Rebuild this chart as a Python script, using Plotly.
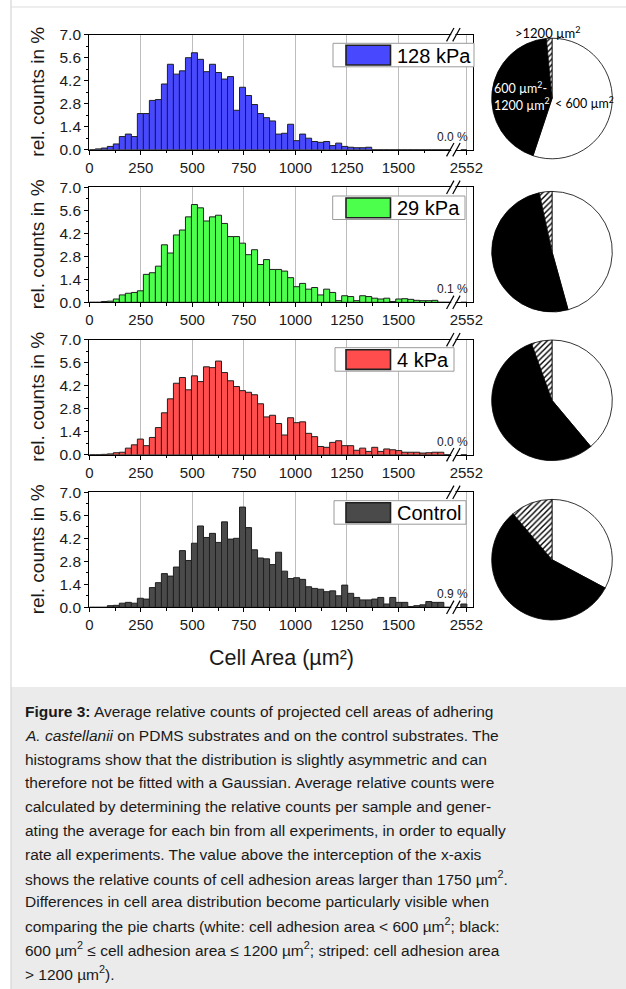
import plotly.graph_objects as go

# ---------------- data ----------------
N_BINS = 60
BIN_MAX = 1750
x_ticks = [0, 250, 500, 750, 1000, 1250, 1500]
x_minor = [125, 375, 625, 875, 1125, 1375, 1625]
break_label = "2552"
y_ticks = [0.0, 1.4, 2.8, 4.2, 5.6, 7.0]
y_minor = [0.7, 2.1, 3.5, 4.9, 6.3]

series_names = ["128 kPa", "29 kPa", "4 kPa", "Control"]
series_colors = ["#4848ff", "#4dff4d", "#ff4d4d", "#4a4a4a"]

counts_128 = [0, 0.05, 0.1, 0.2, 0.35, 0.8, 0.95, 0.8, 2.2, 2.2,
              3.0, 3.05, 4.0, 5.2, 4.6, 4.8, 5.6, 5.9, 5.5, 4.75,
              5.2, 4.7, 4.3, 4.45, 2.4, 3.8, 3.3, 2.75, 2.2, 1.95,
              1.75, 0.95, 1.0, 1.55, 0.55, 0.95, 0.7, 0.5, 0.45, 0.5,
              0.25, 0.4, 0.2, 0.15, 0.12, 0.12, 0.15, 0, 0, 0,
              0, 0, 0, 0, 0, 0, 0, 0, 0, 0]
counts_29 = [0, 0, 0.05, 0.07, 0.2, 0.45, 0.55, 0.6, 0.7, 1.7,
             1.8, 2.2, 3.5, 3.0, 4.1, 4.4, 5.2, 5.95, 5.75, 4.95,
             5.2, 5.3, 4.8, 4.0, 4.0, 3.6, 2.9, 3.2, 2.3, 2.6,
             2.0, 2.0, 1.9, 1.5, 0.95, 1.15, 0.8, 0.9, 0.45, 0.8,
             0.6, 0.1, 0.4, 0.35, 0.1, 0.4, 0.35, 0.25, 0.2, 0.25,
             0.05, 0.2, 0.22, 0.18, 0.12, 0.1, 0.1, 0.12, 0, 0]
counts_4 = [0, 0, 0.02, 0.05, 0.12, 0.15, 0.4, 0.6, 0.95, 0.55,
            1.05, 1.65, 2.55, 3.4, 4.35, 4.7, 3.95, 4.8, 4.45, 5.35,
            5.3, 5.7, 5.0, 4.5, 4.15, 3.9, 3.8, 3.65, 3.1, 2.3,
            2.4, 1.9, 1.2, 2.25, 1.95, 2.0, 1.3, 1.1, 0.5, 0.45,
            0.75, 0.85, 0.55, 0.55, 0.27, 0.4, 0.2, 0.45, 0.2, 0.35,
            0.3, 0.25, 0.15, 0.15, 0.15, 0.1, 0.12, 0.15, 0.15, 0]
counts_ctrl = [0, 0, 0, 0.1, 0.12, 0.25, 0.3, 0.25, 0.55, 0.5,
               1.2, 1.5, 2.05, 1.9, 2.45, 3.45, 2.85, 3.9, 4.95, 4.25,
               4.5, 3.95, 5.2, 4.15, 4.2, 6.1, 4.85, 3.5, 3.0, 2.95,
               2.6, 3.35, 2.2, 1.75, 1.8, 1.7, 1.25, 1.15, 1.1, 0.95,
               1.0, 0.7, 1.35, 0.85, 0.6, 0.45, 0.45, 0.5, 0.6, 0.2,
               0.6, 0.3, 0.3, 0.05, 0.1, 0.15, 0.35, 0.3, 0.3, 0]
over_bar = [0, 0, 0, 0.2]
over_pct = ["0.0 %", "0.1 %", "0.0 %", "0.9 %"]

pie_white = [55.1, 45.7, 38.9, 32.8]
pie_black = [43.4, 50.9, 55.6, 56.0]
pie_striped = [1.5, 3.4, 5.5, 11.2]

caption_lines = [
    "<b>Figure 3:</b> Average relative counts of projected cell areas of adhering",
    "<i>A. castellanii</i> on PDMS substrates and on the control substrates. The",
    "histograms show that the distribution is slightly asymmetric and can",
    "therefore not be fitted with a Gaussian. Average relative counts were",
    "calculated by determining the relative counts per sample and gener-",
    "ating the average for each bin from all experiments, in order to equally",
    "rate all experiments. The value above the interception of the x-axis",
    "shows the relative counts of cell adhesion areas larger than 1750 µm<sup>2</sup>.",
    "Differences in cell area distribution become particularly visible when",
    "comparing the pie charts (white: cell adhesion area &lt; 600 µm<sup>2</sup>; black:",
    "600 µm<sup>2</sup> ≤ cell adhesion area ≤ 1200 µm<sup>2</sup>; striped: cell adhesion area",
    "&gt; 1200 µm<sup>2</sup>).",
]

# ---------------- geometry ----------------
W, H = 626, 989
X_LEFT, X_RIGHT = 89.3, 472.5
XR = [0, 1860]
BREAK_TICK_X = 1830
OVER_X = 1818
BREAK_LO, BREAK_HI = 1752, 1782
PANEL_BOTTOMS = [149.7, 302.3, 454.7, 607.3]
PANEL_H = 115.0
LEG_BOX = [(333, 8.6, 474), (332.7, 8.7, 465), (335, 8.0, 454), (334, 8.4, 466)]
PIE_CENTERS = [(552, 98.5), (552, 251.7), (552, 400.3), (552, 559.7)]
PIE_R = 60.3

FONT = "Liberation Sans, Arial, sans-serif"


def px(x):
    return x / W


def py(y):
    return 1 - y / H


def xpix(v):
    return X_LEFT + (v - XR[0]) / (XR[1] - XR[0]) * (X_RIGHT - X_LEFT)


binw = BIN_MAX / N_BINS
centers = [(k + 0.5) * binw for k in range(N_BINS)]
all_counts = [counts_128, counts_29, counts_4, counts_ctrl]

fig = go.Figure()
layout = dict(
    width=W, height=H, margin=dict(l=0, r=0, t=0, b=0, pad=0, autoexpand=False), autosize=False,
    paper_bgcolor="white", plot_bgcolor="white", showlegend=False,
)
shapes = []
annotations = []

# page frame and caption box
shapes.append(dict(type="rect", xref="paper", yref="paper", x0=px(11), x1=px(626),
                   y0=py(989), y1=py(687), fillcolor="#ebebeb", line=dict(width=0), layer="below"))
shapes.append(dict(type="line", xref="paper", yref="paper", x0=px(11), x1=px(11),
                   y0=py(0), y1=py(989), line=dict(color="#d6d6d6", width=1.2), layer="below"))
shapes.append(dict(type="line", xref="paper", yref="paper", x0=px(11), x1=px(626),
                   y0=py(7), y1=py(7), line=dict(color="#dedede", width=1.2), layer="below"))

for i in range(4):
    ax = "" if i == 0 else str(i + 1)
    bottom = PANEL_BOTTOMS[i]
    top = bottom - PANEL_H
    fig.add_trace(go.Bar(
        x=centers + [OVER_X], y=all_counts[i] + [over_bar[i]],
        width=[binw] * N_BINS + [binw],
        xaxis="x" + ax, yaxis="y" + ax,
        marker=dict(color=series_colors[i], line=dict(color="#202020", width=1)),
        showlegend=False, hoverinfo="x+y",
    ))
    layout["xaxis" + ax] = dict(
        domain=[px(X_LEFT), px(X_RIGHT)], range=XR, anchor="y" + ax, automargin=False,
        tickmode="array", tickvals=x_ticks + [BREAK_TICK_X],
        ticktext=[str(t) for t in x_ticks] + [break_label],
        ticks="outside", ticklen=4, tickwidth=1, tickcolor="black",
        showline=True, linecolor="black", linewidth=1.3, mirror=True,
        showgrid=True, gridcolor="#bdbdbd", gridwidth=1, zeroline=False,
        tickfont=dict(family=FONT, size=15, color="#1a1a1a"),
        minor=dict(tickmode="array", tickvals=x_minor, ticks="outside", ticklen=2.5,
                   tickcolor="black", showgrid=False),
    )
    layout["yaxis" + ax] = dict(
        domain=[py(bottom), py(top)], range=[0, 7.0], anchor="x" + ax, automargin=False,
        tickmode="array", tickvals=y_ticks, ticktext=[f"{v:.1f}" for v in y_ticks],
        ticks="outside", ticklen=4, tickwidth=1, tickcolor="black",
        showline=True, linecolor="black", linewidth=1.3, mirror=True,
        showgrid=False, zeroline=False,
        tickfont=dict(family=FONT, size=15.5, color="#1a1a1a"),
        minor=dict(tickmode="array", tickvals=y_minor, ticks="outside", ticklen=2.5,
                   tickcolor="black", showgrid=False),
    )
    annotations.append(dict(text="rel. counts in %", x=px(37.5), y=py((top + bottom) / 2),
                            xref="paper", yref="paper", showarrow=False, textangle=-90,
                            font=dict(family=FONT, size=19, color="#1a1a1a"),
                            xanchor="center", yanchor="middle"))
    annotations.append(dict(text=over_pct[i], x=px(469.5), y=py(bottom - 13),
                            xref="paper", yref="paper", showarrow=False,
                            font=dict(family=FONT, size=12, color="#222"),
                            xanchor="right", yanchor="middle"))
    xa, xb = xpix(BREAK_LO), xpix(BREAK_HI)
    for yl in (bottom, top):
        shapes.append(dict(type="line", xref="paper", yref="paper",
                           x0=px(xa + 1), x1=px(xb - 1), y0=py(yl), y1=py(yl),
                           line=dict(color="white", width=4), layer="above"))
        for xc in (xa, xb):
            shapes.append(dict(type="line", xref="paper", yref="paper",
                               x0=px(xc - 3.7), x1=px(xc + 3.7), y0=py(yl + 6.7), y1=py(yl - 6.7),
                               line=dict(color="black", width=1.2), layer="above"))
    bl, boff, br = LEG_BOX[i]
    bt = top + boff
    bb = bt + 23.5
    shapes.append(dict(type="rect", xref="paper", yref="paper", x0=px(bl), x1=px(br),
                       y0=py(bb), y1=py(bt), fillcolor="white",
                       line=dict(color="#9a9a9a", width=1), layer="above"))
    shapes.append(dict(type="rect", xref="paper", yref="paper", x0=px(346), x1=px(390.5),
                       y0=py(bb - 1.8), y1=py(bt + 2), fillcolor=series_colors[i],
                       line=dict(color="#202020", width=1.6), layer="above"))
    annotations.append(dict(text=series_names[i], x=px(394.5), y=py((bt + bb) / 2 + 0.5),
                            xref="paper", yref="paper", showarrow=False,
                            font=dict(family=FONT, size=20, color="black"),
                            xanchor="left", yanchor="middle"))

    cx, cy = PIE_CENTERS[i]
    fig.add_trace(go.Pie(
        values=[pie_white[i], pie_black[i], pie_striped[i]],
        labels=["< 600 µm²", "600–1200 µm²", "> 1200 µm²"],
        sort=False, direction="clockwise", rotation=0,
        textinfo="none", showlegend=False, automargin=False,
        marker=dict(colors=["white", "black", "white"],
                    line=dict(color="black", width=0.8),
                    pattern=dict(shape=["", "", "/"], fgcolor="black", bgcolor="white",
                                 size=4, solidity=0.35)),
        domain=dict(x=[px(cx - PIE_R), px(cx + PIE_R)], y=[py(cy + PIE_R), py(cy - PIE_R)]),
    ))

annotations.append(dict(text="Cell Area (µm²)", x=px(281), y=py(658), xref="paper", yref="paper",
                        showarrow=False, font=dict(family=FONT, size=21.5, color="#1a1a1a"),
                        xanchor="center", yanchor="middle"))

PIE_FONT = "Lato, Open Sans, sans-serif"
annotations += [
    dict(text="&gt;1200 µm<sup>2</sup>", x=px(547.5), y=py(32), xanchor="center", align="center",
         font=dict(family=PIE_FONT, size=13, color="black")),
    dict(text="600 µm<sup>2</sup>-<br>1200 µm<sup>2</sup>", x=px(491.5), y=py(95.5),
         xanchor="left", align="left",
         font=dict(family=PIE_FONT, size=12.5, color="white")),
    dict(text="&lt; 600 µm<sup>2</sup>", x=px(553), y=py(103), xanchor="left", align="left",
         font=dict(family=PIE_FONT, size=12.5, color="black")),
]
for a in annotations[-3:]:
    a.update(xref="paper", yref="paper", showarrow=False, yanchor="middle")

for j, line in enumerate(caption_lines):
    annotations.append(dict(text=line, x=px(23), y=py(711.7 + 23.75 * j), xref="paper", yref="paper",
                            showarrow=False, xanchor="left", yanchor="middle",
                            font=dict(family=FONT, size=15.5, color="#1a1a1a")))

layout["shapes"] = shapes
layout["annotations"] = annotations
fig.update_layout(**layout)

fig.write_html(
    "out.html",
    config={"displayModeBar": False, "responsive": False},
    default_width="626px", default_height="989px",
    post_script="document.documentElement.style.overflow='hidden';"
                "document.body.style.margin='0';document.body.style.overflow='hidden';",
)
